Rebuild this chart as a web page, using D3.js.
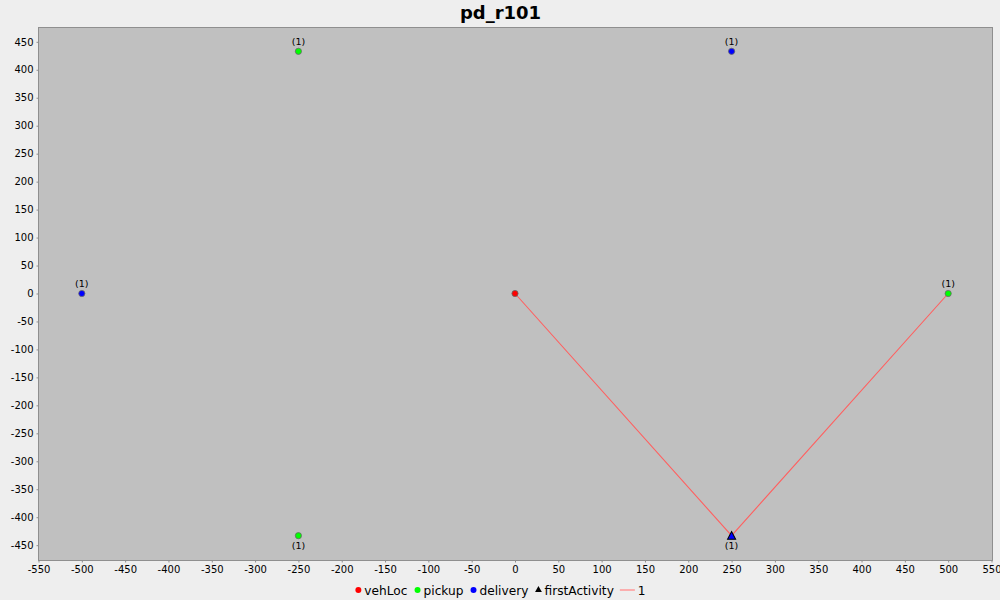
<!DOCTYPE html>
<html>
<head>
<meta charset="utf-8">
<script src="https://d3js.org/d3.v7.min.js"></script>
<style>
  html, body { margin: 0; padding: 0; background: #eeeeee; }
  svg { display: block; font-family: "DejaVu Sans", sans-serif; }
</style>
</head>
<body>
<svg id="chart" width="1000" height="600"></svg>
<script>
const title = 'pd_r101';
const xTicks = d3.range(-550, 551, 50);
const yTicks = d3.range(-450, 451, 50);

const vehLoc = [[0, 0]];
const pickups = [[-250, 433], [500, 0], [-250, -433]];
const deliveries = [[-500, 0], [250, 433], [250, -433]];
const firstActivity = [[250, -433]];
const route = [[0, 0], [250, -433], [500, 0]];

// which way the (1) label goes: above the point, or below it
const pickupLabels = ['(1)', '(1)', '(1)'];
const pickupBelow = [false, false, true];
const deliveryLabels = ['(1)', '(1)', '(1)'];
const deliveryBelow = [false, false, true];

const legendItems = ['vehLoc', 'pickup', 'delivery', 'firstActivity', '1'];

const plotLeft = 38.5, plotRight = 991.5, plotTop = 27, plotBottom = 560;

const svg = d3.select('#chart');

const x = d3.scaleLinear().domain([-550, 550]).range([plotLeft, plotRight]);
const y = d3.scaleLinear().domain([-476.5, 476.5]).range([plotBottom, plotTop]);

svg.append('rect')
  .attr('x', plotLeft).attr('y', plotTop + 0.5)
  .attr('width', plotRight + 1 - plotLeft).attr('height', plotBottom - plotTop)
  .attr('fill', '#c0c0c0')
  .attr('stroke', '#8f8f8f');

svg.append('text')
  .attr('x', 500.5).attr('y', 18.5)
  .attr('text-anchor', 'middle')
  .attr('font-size', 18)
  .attr('font-weight', 'bold')
  .attr('fill', '#000')
  .text(title);

const xAxis = svg.append('g')
  .attr('transform', `translate(0,${plotBottom + 0.5})`)
  .call(d3.axisBottom(x).tickValues(xTicks).tickFormat(d3.format('d')).tickSize(2).tickPadding(3));
const yAxis = svg.append('g')
  .attr('transform', `translate(${plotLeft},0)`)
  .call(d3.axisLeft(y).tickValues(yTicks).tickFormat(d3.format('d')).tickSize(2).tickPadding(3));

[xAxis, yAxis].forEach(a => {
  a.select('.domain').remove();
  a.selectAll('line').attr('stroke', '#8f8f8f');
  a.selectAll('text')
    .attr('font-family', '"DejaVu Sans", sans-serif')
    .attr('font-size', 10)
    .attr('fill', '#000')
    .text(d => String(d));  // plain hyphen, like the original
});

// route line
svg.append('path')
  .datum(route)
  .attr('d', d3.line().x(d => x(d[0])).y(d => y(d[1])))
  .attr('fill', 'none')
  .attr('stroke', '#ff5f5f')
  .attr('stroke-width', 1.1);

function drawDots(data, color) {
  svg.append('g')
    .selectAll('circle')
    .data(data)
    .enter()
    .append('circle')
    .attr('cx', d => x(d[0]))
    .attr('cy', d => y(d[1]))
    .attr('r', 3.1)
    .attr('fill', color)
    .attr('stroke', '#666')
    .attr('stroke-width', 0.8);
}

function drawLabels(data, labels, below) {
  svg.append('g')
    .selectAll('text')
    .data(data)
    .enter()
    .append('text')
    .attr('x', d => x(d[0]))
    .attr('y', (d, i) => y(d[1]) + (below[i] ? 13.5 : -6.5))
    .attr('text-anchor', 'middle')
    .attr('font-size', 9.5)
    .attr('fill', '#000')
    .text((d, i) => labels[i]);
}

const triangle = d3.symbol().type(d3.symbolTriangle);

// first activity triangle replaces the delivery dot at that point
svg.append('g')
  .selectAll('path')
  .data(firstActivity)
  .enter()
  .append('path')
  .attr('transform', d => `translate(${x(d[0])},${y(d[1]) + 1}) scale(1,1.1)`)
  .attr('d', triangle.size(28)())
  .attr('fill', '#0000ff')
  .attr('stroke', '#000')
  .attr('stroke-width', 1);

drawDots(vehLoc, '#ff0000');
drawDots(pickups, '#00ff00');
drawDots(deliveries.filter(d => !firstActivity.some(f => f[0] === d[0] && f[1] === d[1])), '#0000ff');
drawLabels(pickups, pickupLabels, pickupBelow);
drawLabels(deliveries, deliveryLabels, deliveryBelow);

// legend, laid out from measured text widths
const legend = svg.append('g').attr('font-size', 12.2).attr('fill', '#000');
const legendY = 590;
const keyWidths = [10, 10, 10, 10, 18];
const gap = 6;
const probe = svg.append('text').attr('font-size', 12.2).attr('visibility', 'hidden');
const textWidths = legendItems.map(t => probe.text(t).node().getComputedTextLength());
probe.remove();
const total = d3.sum(textWidths) + d3.sum(keyWidths) + gap * (legendItems.length - 1);
let cx = 500 - total / 2;
legendItems.forEach((t, i) => {
  const w = keyWidths[i];
  if (i < 3) {
    legend.append('circle')
      .attr('cx', cx + w / 2 - 1).attr('cy', legendY)
      .attr('r', 3)
      .attr('fill', ['#ff0000', '#00ff00', '#0000ff'][i]);
  } else if (i === 3) {
    legend.append('path')
      .attr('transform', `translate(${cx + w / 2 - 1},${legendY})`)
      .attr('d', triangle.size(20)())
      .attr('fill', '#000');
  } else {
    legend.append('line')
      .attr('x1', cx).attr('x2', cx + 15)
      .attr('y1', legendY).attr('y2', legendY)
      .attr('stroke', '#ff9999')
      .attr('stroke-width', 1.5);
  }
  legend.append('text')
    .attr('x', cx + w).attr('y', legendY + 4.5)
    .text(t);
  cx += w + textWidths[i] + gap;
});
</script>
</body>
</html>
